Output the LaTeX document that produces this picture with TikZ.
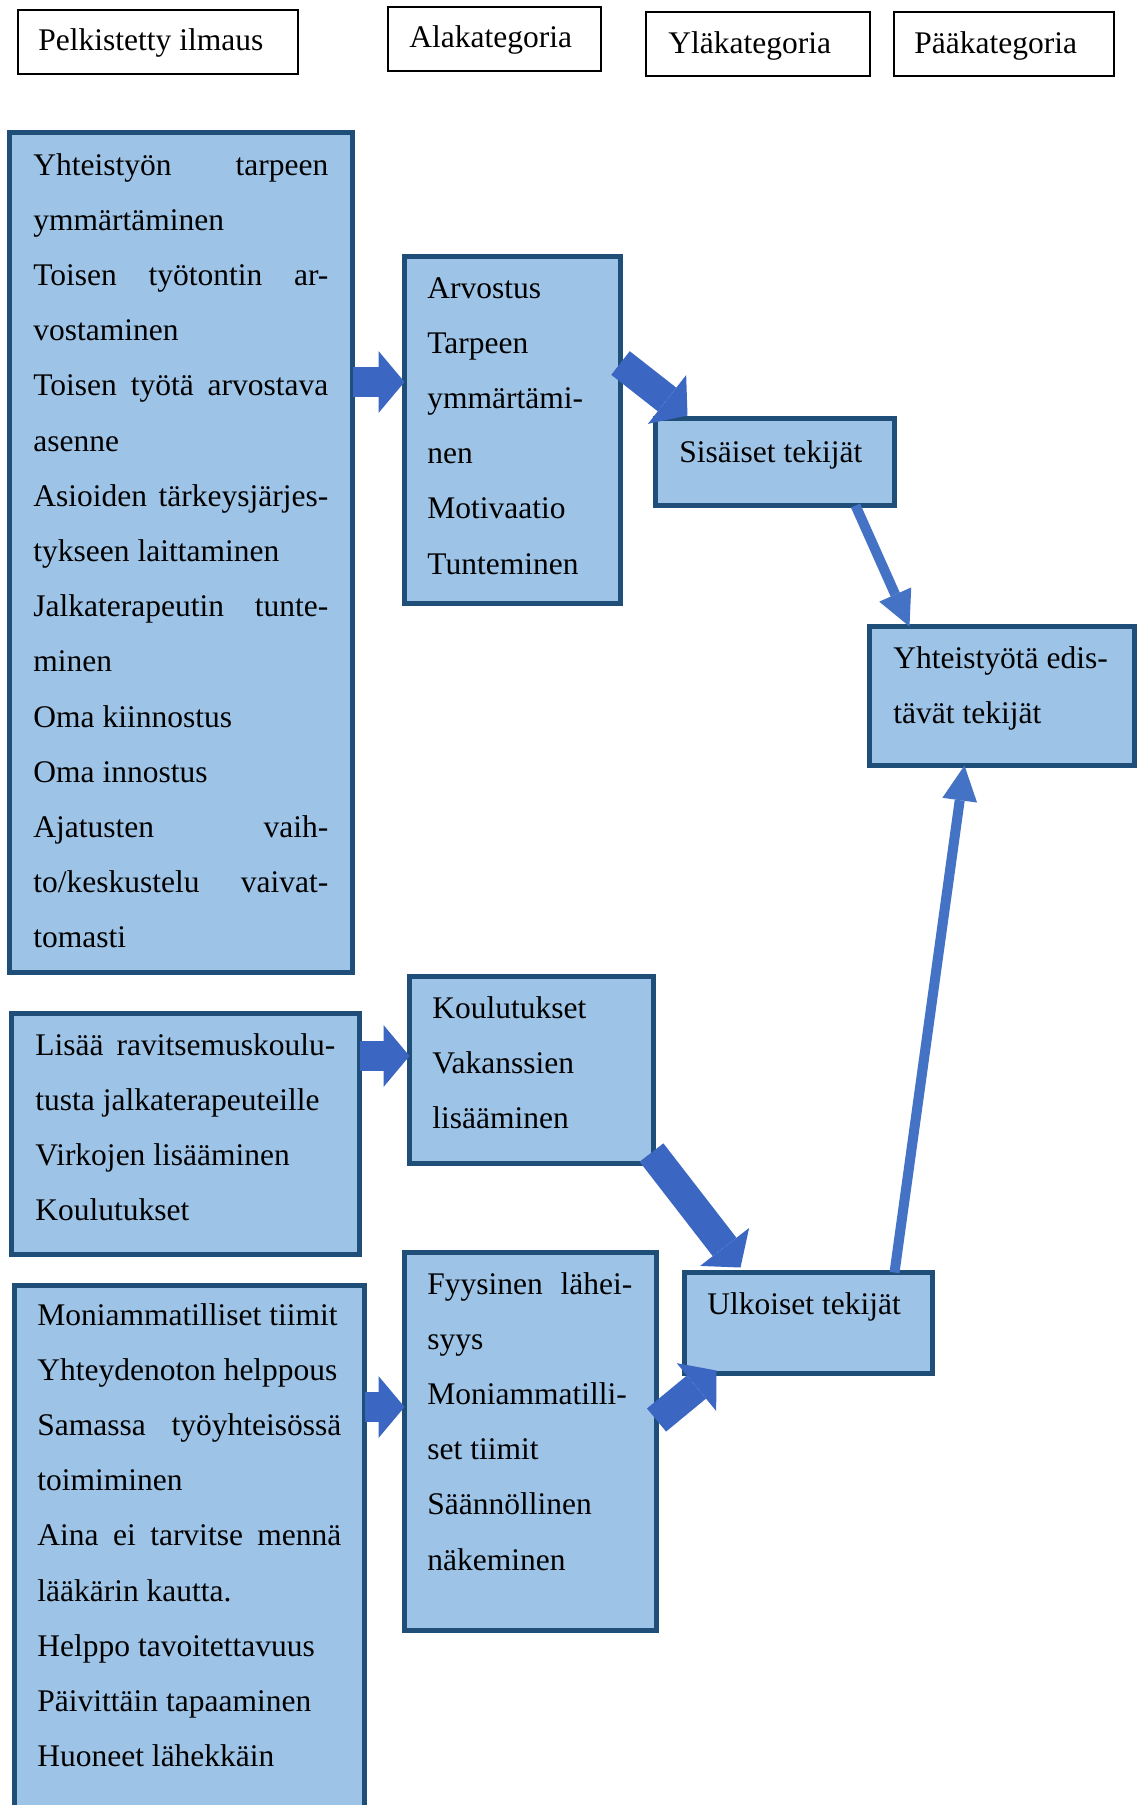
\documentclass[tikz,border=0pt]{standalone}
\usepackage{fontspec}
\setmainfont{Liberation Serif}
\usepackage{tikz}
\usetikzlibrary{calc, arrows.meta}
\usetikzlibrary{positioning}

\definecolor{boxfill}{HTML}{9DC3E6}
\definecolor{boxline}{HTML}{1F4E79}
\definecolor{thinblue}{HTML}{4472C4}
\definecolor{fatblue}{HTML}{3B67C3}

\newcommand{\diagfont}{\fontsize{15.75pt}{27.6pt}\selectfont}
\newcommand{\jline}[2]{\makebox[#1][s]{\spaceskip=0pt\xspaceskip=0pt\relax #2}}

\tikzset{
    headbox/.style={draw=black, line width=0.75pt, fill=white, anchor=north west, outer sep=0pt, inner sep=0pt},
    catbox/.style={draw=boxline, line width=2.5pt, fill=boxfill, anchor=north west, outer sep=0pt, inner sep=0pt},
    txt/.style={anchor=base west, inner sep=0pt, align=justify, text width=200pt, font=\diagfont},
    fatarrow/.style={draw=fatblue, line width=15pt, -{Triangle[width=31pt, length=13pt, line width=0pt]}},
    thinarrow/.style={draw=thinblue, line width=5pt, -{Triangle[width=17.5pt, length=17.5pt, line width=0pt]}},
}

\begin{document}
\begin{tikzpicture}[x=0.5pt, y=-0.5pt]
    \clip (0,0) rectangle (1139,1805);
    % headings
    \node[headbox, minimum width=140pt, minimum height=32pt] (head1) at (18,10) {};
    \node[headbox, minimum width=106.5pt, minimum height=32pt] (head2) at (388,7) {};
    \node[headbox, minimum width=112pt, minimum height=32pt] (head3) at (646,12) {};
    \node[headbox, minimum width=110pt, minimum height=32pt] (head4) at (894,12) {};
    \node[txt] (head1t) at (38,50) {Pelkistetty ilmaus};
    \node[txt] (head2t) at (409,47) {Alakategoria};
    \node[txt] (head3t) at (668,53) {Yläkategoria};
    \node[txt] (head4t) at (914,53) {Pääkategoria};

    % boxes
    \node[catbox, minimum width=171.5pt, minimum height=420pt] (left1) at (9.5,132.5) {};
    \node[catbox, minimum width=108pt, minimum height=173.5pt] (mid1) at (404.5,256.5) {};
    \node[catbox, minimum width=119.5pt, minimum height=43.5pt] (sis) at (655.5,418.5) {};
    \node[catbox, minimum width=132.5pt, minimum height=69.5pt] (yht) at (869.5,626.5) {};
    \node[catbox, minimum width=174pt, minimum height=120.5pt] (left2) at (11.5,1013.5) {};
    \node[catbox, minimum width=122pt, minimum height=93.5pt] (mid2) at (409.5,976.5) {};
    \node[catbox, minimum width=175pt, minimum height=280pt] (left3) at (14.5,1285.5) {};
    \node[catbox, minimum width=126pt, minimum height=189pt] (mid3) at (404.5,1252.5) {};
    \node[catbox, minimum width=124pt, minimum height=50.5pt] (ulk) at (684.5,1272.5) {};

    \node[txt] (left1t) at (33,175) {\jline{147.5pt}{Yhteistyön tarpeen}\\
        ymmärtäminen\\
        \jline{147.5pt}{Toisen työtontin ar-}\\
        vostaminen\\
        \jline{147.5pt}{Toisen työtä arvostava}\\
        asenne\\
        \jline{147.5pt}{Asioiden tärkeysjärjes-}\\
        tykseen laittaminen\\
        \jline{147.5pt}{Jalkaterapeutin tunte-}\\
        minen\\
        Oma kiinnostus\\
        Oma innostus\\
        \jline{147.5pt}{Ajatusten vaih-}\\
        \jline{147.5pt}{to/keskustelu vaivat-}\\
        tomasti};
    \node[txt] (mid1t) at (427,298) {Arvostus\\ Tarpeen\\ ymmärtämi-\\ nen\\ Motivaatio\\ Tunteminen};
    \node[txt] (sist) at (679,462) {Sisäiset tekijät};
    \node[txt] (yhtt) at (893,668) {Yhteistyötä edis-\\ tävät tekijät};
    \node[txt] (left2t) at (35,1055) {\jline{150pt}{Lisää ravitsemuskoulu-}\\
        tusta jalkaterapeuteille\\
        Virkojen lisääminen\\
        Koulutukset};
    \node[txt] (mid2t) at (432,1018) {Koulutukset\\ Vakanssien\\ lisääminen};
    \node[txt] (left3t) at (37,1325) {Moniammatilliset tiimit\\
        Yhteydenoton helppous\\
        \jline{152pt}{Samassa työyhteisössä}\\
        toimiminen\\
        \jline{152pt}{Aina ei tarvitse mennä}\\
        lääkärin kautta.\\
        Helppo tavoitettavuus\\
        Päivittäin tapaaminen\\
        Huoneet lähekkäin};
    \node[txt] (mid3t) at (427,1294) {\jline{102.5pt}{Fyysinen lähei-}\\ syys\\ Moniammatilli-\\ set tiimit\\ Säännöllinen\\ näkeminen};
    \node[txt] (ulkt) at (707,1314) {Ulkoiset tekijät};

    % arrows
    \draw[fatarrow] (left1.east |- 0,382) -- (mid1.west |- 0,382);
    \draw[fatarrow] (mid1.east |- 0,363) -- ([shift={(32,-3)}]sis.north west);
    \draw[fatarrow] (left2.east |- 0,1056) -- (mid2.west |- 0,1056);
    \draw[fatarrow] ([shift={(-2,-11)}]mid2.south east) -- ([shift={(56,-5)}]ulk.north west);
    \draw[fatarrow] (left3.east |- 0,1407) -- (mid3.west |- 0,1407);
    \draw[fatarrow] (mid3.east |- 0,1420) -- ([shift={(32,-3)}]ulk.south west);
    \draw[thinarrow] ([shift={(200,0)}]sis.south west) -- ([shift={(40,0)}]yht.north west);
    \draw[thinarrow] ([shift={(210,0)}]ulk.north west) -- ([shift={(95,0)}]yht.south west);
\end{tikzpicture}
\end{document}
